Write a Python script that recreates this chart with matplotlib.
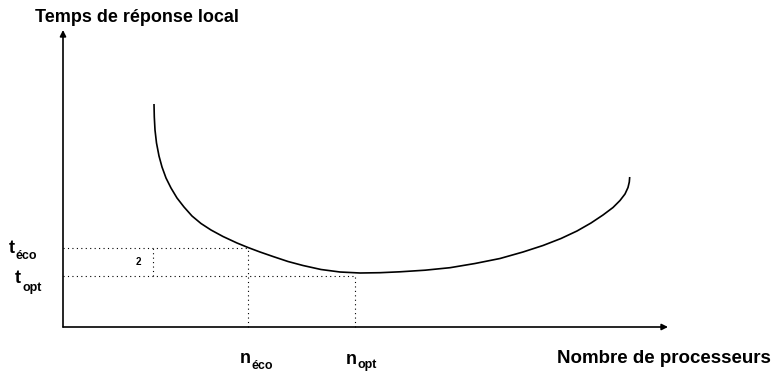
# Courbe du temps de réponse local en fonction du nombre de processeurs.

import numpy as np
import matplotlib
matplotlib.use('Agg')
import matplotlib.pyplot as plt

plt.rcParams['font.family'] = ['Liberation Sans', 'DejaVu Sans']

# Curve (x: processors, y: response time, arbitrary units)
n_proc = [91, 91.3, 92, 93.5, 96, 99, 103, 108, 114, 121, 129, 138, 148, 160,
          174, 185, 197, 210, 225, 240, 258, 277, 297, 317, 337, 362, 387,
          412, 437, 460, 480, 498, 514, 528, 540, 550, 557, 562, 565, 566.3,
          566.7]
t_resp = [223, 210, 197, 184, 171, 160, 149, 139, 129, 120, 111, 103.5, 97,
          90.5, 84, 79.5, 75, 70.5, 65.5, 61.5, 57.5, 55, 54, 54.3, 55.2, 56.8,
          59.3, 63.5, 68.5, 75, 81.5, 88.5, 96, 104, 112, 119.5, 126.5, 133,
          139.5, 145, 150]

n_eco, t_eco = 185, 79
n_opt, t_opt = 292, 51
n_mid = 90

x_label = 'Nombre de processeurs'
y_label = 'Temps de réponse local'

fig = plt.figure(figsize=(7.75, 3.76), dpi=100)
ax = fig.add_axes([0, 0, 1, 1])
ax.set_xlim(-63, 712)
ax.set_ylim(-49, 327)
ax.axis('off')

# axes with arrows
ax.annotate('', xy=(605, 0), xytext=(0, 0),
            arrowprops=dict(arrowstyle='-|>', color='black', lw=1.2,
                            mutation_scale=9, shrinkA=0, shrinkB=0))
ax.annotate('', xy=(0, 297), xytext=(0, 0),
            arrowprops=dict(arrowstyle='-|>', color='black', lw=1.2,
                            mutation_scale=9, shrinkA=0, shrinkB=0))

ax.plot(n_proc, t_resp, color='black', lw=1.2, solid_capstyle='butt',
        solid_joinstyle='round')

dot = dict(color='black', lw=0.8, ls=(0, (1, 3)))
ax.plot([0, n_eco], [t_eco, t_eco], **dot)
ax.plot([n_eco, n_eco], [0, t_eco], **dot)
ax.plot([0, n_opt], [t_opt, t_opt], **dot)
ax.plot([n_opt, n_opt], [0, t_opt], **dot)
ax.plot([n_mid, n_mid], [t_opt, t_eco], **dot)

ax.text(75, (t_eco + t_opt) / 2, '2', fontsize=7, fontweight='bold',
        ha='center', va='center')

big = dict(fontsize=13, fontweight='bold', va='baseline', ha='left')
small = dict(fontsize=9, fontweight='bold', va='baseline', ha='left')

ax.text(-54, 74, 't', **big)
ax.text(-47, 68, 'éco', **small)
ax.text(-48, 44, 't', **big)
ax.text(-40, 36, 'opt', **small)

ax.text(177, -36, 'n', **big)
ax.text(189, -42, 'éco', **small)
ax.text(283, -37, 'n', **big)
ax.text(295, -41, 'opt', **small)

ax.text(-28, 305, y_label, fontsize=13, fontweight='bold', ha='left', va='baseline')
ax.text(494, -36, x_label, fontsize=13.5, fontweight='bold', ha='left', va='baseline')

fig.savefig('out.png', dpi=100)
